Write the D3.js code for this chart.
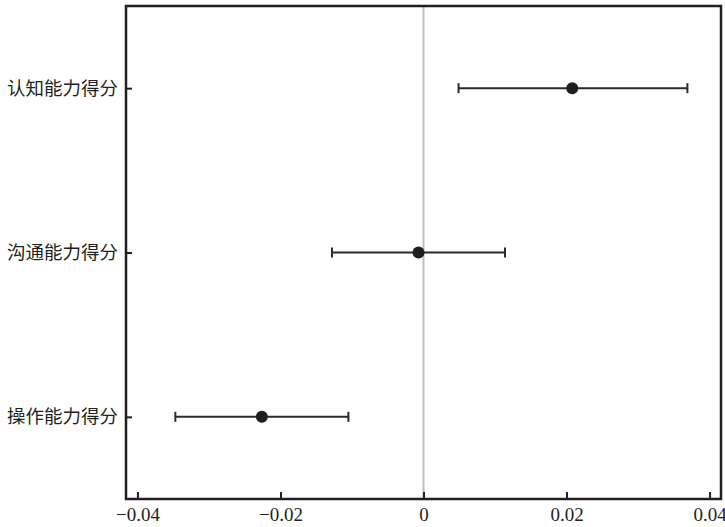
<!DOCTYPE html>
<html>
<head>
<meta charset="utf-8">
<script src="https://cdn.jsdelivr.net/npm/d3@7"></script>
<style>
  body { margin: 0; background: #fff; }
  svg { display: block; }
</style>
</head>
<body>
<svg id="chart"></svg>
<script>
// categories, top to bottom
const categories = ["认知能力得分", "沟通能力得分", "操作能力得分"];
// point estimates and confidence bounds
const estimates = [0.0208, -0.0007, -0.0226];
const lowers = [0.0049, -0.0128, -0.0347];
const uppers = [0.0369, 0.0114, -0.0105];
const xTicks = [-0.04, -0.02, 0, 0.02, 0.04];

const rows = categories.map((c, i) => ({ label: c, est: estimates[i], lo: lowers[i], hi: uppers[i] }));

const width = 725, height = 527;
const margin = { top: 6, right: 4, bottom: 28, left: 126 };

const svg = d3.select("#chart")
  .attr("width", width)
  .attr("height", height);

const innerW = width - margin.left - margin.right;
const innerH = height - margin.top - margin.bottom;

const x = d3.scaleLinear()
  .domain([-0.0416, 0.0416])
  .range([0, innerW]);

const y = d3.scalePoint()
  .domain(categories)
  .range([0, innerH])
  .padding(0.5);

const g = svg.append("g")
  .attr("transform", `translate(${margin.left},${margin.top})`);

// zero reference line
g.append("line")
  .attr("x1", x(0)).attr("x2", x(0))
  .attr("y1", 0).attr("y2", innerH)
  .attr("stroke", "#bdbdbd")
  .attr("stroke-width", 2);

// x axis, ticks inward
const fmt = d => d === 0 ? "0" : d3.format(".2f")(d).replace("-", "\u2212");
const xAxis = g.append("g")
  .attr("transform", `translate(0,${innerH})`)
  .call(d3.axisBottom(x).tickValues(xTicks).tickFormat(fmt).tickSizeInner(-7).tickSizeOuter(0).tickPadding(9));
xAxis.select(".domain").remove();
xAxis.selectAll(".tick line").attr("stroke", "#231f20").attr("stroke-width", 2);
xAxis.selectAll("text")
  .attr("fill", "#231f20")
  .style("font-family", "'Liberation Serif', 'DejaVu Serif', serif")
  .style("font-size", "19px");

// y axis, ticks inward
const yAxis = g.append("g")
  .call(d3.axisLeft(y).tickSizeInner(-6).tickSizeOuter(0).tickPadding(8));
yAxis.select(".domain").remove();
yAxis.selectAll(".tick line").attr("stroke", "#231f20").attr("stroke-width", 2);
yAxis.selectAll("text")
  .attr("fill", "#231f20")
  .style("font-family", "'Noto Sans CJK SC', sans-serif")
  .style("font-size", "18.5px");

// frame
g.append("rect")
  .attr("x", 0).attr("y", 0)
  .attr("width", innerW).attr("height", innerH)
  .attr("fill", "none")
  .attr("stroke", "#231f20")
  .attr("stroke-width", 2.5);

// error bars
const bars = g.selectAll(".err")
  .data(rows)
  .enter()
  .append("g")
  .attr("class", "err");

bars.append("line")
  .attr("x1", d => x(d.lo)).attr("x2", d => x(d.hi))
  .attr("y1", d => y(d.label)).attr("y2", d => y(d.label))
  .attr("stroke", "#2b2b2b").attr("stroke-width", 2);

bars.append("line")
  .attr("x1", d => x(d.lo)).attr("x2", d => x(d.lo))
  .attr("y1", d => y(d.label) - 5).attr("y2", d => y(d.label) + 5)
  .attr("stroke", "#2b2b2b").attr("stroke-width", 2);

bars.append("line")
  .attr("x1", d => x(d.hi)).attr("x2", d => x(d.hi))
  .attr("y1", d => y(d.label) - 5).attr("y2", d => y(d.label) + 5)
  .attr("stroke", "#2b2b2b").attr("stroke-width", 2);

bars.append("circle")
  .attr("cx", d => x(d.est))
  .attr("cy", d => y(d.label))
  .attr("r", 6)
  .attr("fill", "#1e1e1e");
</script>
</body>
</html>
